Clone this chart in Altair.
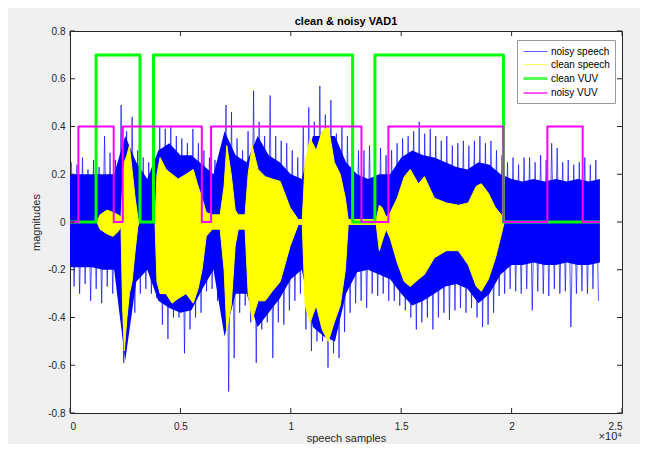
import altair as alt
import pandas as pd

# ---------------- data ----------------
series_names = ["noisy speech", "clean speech", "clean VUV", "noisy VUV"]
series_colors = ["#0000ff", "#ffff00", "#00ff00", "#ff00ff"]
series_widths = [1, 1, 3, 2]

x_ticks = [0, 5000, 10000, 15000, 20000, 25000]
y_ticks = [-0.8, -0.6, -0.4, -0.2, 0, 0.2, 0.4, 0.6, 0.8]

# voiced/unvoiced step signals (sample index where the level starts)
clean_vuv_s = [0, 1180, 3170, 3780, 12800, 13810, 19630, 24000]
clean_vuv_v = [0, 0.7, 0, 0.7, 0, 0.7, 0, 0]
noisy_vuv_s = [0, 380, 1980, 2390, 5970, 6390, 13200, 14420, 19630, 21620, 23220, 24000]
noisy_vuv_v = [0, 0.4, 0, 0.4, 0, 0.4, 0, 0.4, 0, 0.4, 0, 0]

# clean speech envelope (breakpoints)
clean_s = [0, 1220, 1360, 1680, 1950, 2180, 2310, 2380, 2460, 2580, 2690, 2810, 2950, 3070,
           3130, 3850, 3940, 4080, 4350, 4620, 4900, 5260, 5580, 5800, 5980, 6170, 6440,
           6800, 6980, 7100, 7300, 7480, 7620, 7930, 8070, 8250, 8520, 8840, 9160, 9520,
           9970, 10340, 10520, 10650, 10880, 11150, 11420, 11700, 11970, 12240, 12470,
           12600, 13870, 14010, 14140, 14320, 14510, 14820, 15140, 15410, 15780, 16050,
           16500, 17040, 17590, 18040, 18400, 18630, 18950, 19270, 19540, 19670, 24000]
clean_hi = [0, 0, 0.03, 0.05, 0.04, 0.03, 0.02, 0.15, 0.25, 0.28, 0.32, 0.22, 0.1, 0.02,
            0, 0, 0.2, 0.27, 0.22, 0.2, 0.18, 0.2, 0.22, 0.15, 0.1, 0.04, 0.03,
            0.03, 0.15, 0.32, 0.2, 0.05, 0.03, 0.03, 0.2, 0.32, 0.22, 0.19, 0.18, 0.17,
            0.06, 0.01, 0.01, 0.25, 0.35, 0.3, 0.38, 0.4, 0.25, 0.2, 0.1,
            0.01, 0.01, 0.07, 0.06, 0.02, 0.04, 0.1, 0.19, 0.22, 0.16, 0.19,
            0.1, 0.08, 0.07, 0.08, 0.15, 0.16, 0.12, 0.06, 0.03, 0, 0]
clean_lo = [0, 0, -0.03, -0.05, -0.06, -0.04, -0.02, -0.35, -0.54, -0.4, -0.3, -0.25, -0.12, -0.02,
            0, 0, -0.25, -0.3, -0.3, -0.34, -0.32, -0.3, -0.34, -0.28, -0.2, -0.06, -0.03,
            -0.03, -0.2, -0.45, -0.35, -0.1, -0.03, -0.03, -0.3, -0.41, -0.33, -0.33, -0.29, -0.25,
            -0.1, -0.01, -0.01, -0.35, -0.42, -0.35, -0.45, -0.5, -0.42, -0.35, -0.2,
            -0.01, -0.01, -0.12, -0.08, -0.03, -0.07, -0.17, -0.25, -0.27, -0.24, -0.22,
            -0.15, -0.12, -0.12, -0.18, -0.27, -0.29, -0.24, -0.15, -0.05, 0, 0]

# noisy speech: dense core band, every 500 samples
noisy_core_s = list(range(0, 24001, 500))
noisy_core_hi = [0.2, 0.2, 0.2, 0.2, 0.2, 0.36, 0.25, 0.18, 0.3, 0.33, 0.28, 0.28, 0.24,
                 0.2, 0.38, 0.28, 0.25, 0.36, 0.28, 0.25, 0.2, 0.18, 0.36, 0.36, 0.36,
                 0.25, 0.2, 0.18, 0.2, 0.2, 0.27, 0.3, 0.28, 0.27, 0.25, 0.23, 0.22,
                 0.25, 0.24, 0.2, 0.18, 0.17, 0.18, 0.17, 0.18, 0.17, 0.18, 0.17, 0.18]
noisy_core_lo = [-0.19, -0.19, -0.19, -0.2, -0.2, -0.58, -0.25, -0.2, -0.33, -0.36, -0.38,
                 -0.37, -0.28, -0.2, -0.48, -0.3, -0.3, -0.44, -0.38, -0.32, -0.24, -0.2,
                 -0.44, -0.48, -0.5, -0.3, -0.21, -0.2, -0.22, -0.24, -0.3, -0.35, -0.33,
                 -0.3, -0.27, -0.26, -0.28, -0.34, -0.3, -0.22, -0.18, -0.18, -0.17,
                 -0.18, -0.18, -0.17, -0.18, -0.18, -0.17]

# noisy speech: extreme spikes, one per 250 samples
spike_s = list(range(125, 24000, 250))
spike_hi = [0.25, 0.24, 0.27, 0.22, 0.26, 0.23, 0.36, 0.29, 0.26, 0.49, 0.38, 0.44,
            0.3, 0.27, 0.25, 0.28, 0.4, 0.39, 0.4, 0.36, 0.35, 0.33, 0.39, 0.33,
            0.3, 0.27, 0.26, 0.3, 0.49, 0.46, 0.35, 0.3, 0.38, 0.55, 0.42, 0.36,
            0.53, 0.36, 0.34, 0.33, 0.3, 0.27, 0.4, 0.48, 0.42, 0.57, 0.45, 0.51,
            0.37, 0.4, 0.36, 0.35, 0.3, 0.3, 0.32, 0.29, 0.31, 0.28, 0.3, 0.33,
            0.35, 0.36, 0.38, 0.42, 0.37, 0.39, 0.36, 0.34, 0.36, 0.32, 0.33, 0.34,
            0.32, 0.34, 0.36, 0.33, 0.34, 0.3, 0.28, 0.25, 0.27, 0.24, 0.27, 0.27,
            0.25, 0.28, 0.26, 0.33, 0.31, 0.25, 0.26, 0.24, 0.25, 0.27, 0.24, 0.26]
spike_lo = [-0.27, -0.3, -0.26, -0.33, -0.28, -0.34, -0.27, -0.3, -0.31, -0.59, -0.42, -0.38,
            -0.3, -0.28, -0.3, -0.32, -0.43, -0.49, -0.4, -0.4, -0.55, -0.45, -0.4, -0.38,
            -0.29, -0.28, -0.33, -0.3, -0.71, -0.57, -0.38, -0.35, -0.42, -0.59, -0.45, -0.42,
            -0.57, -0.42, -0.43, -0.37, -0.33, -0.3, -0.45, -0.54, -0.5, -0.5, -0.61, -0.55,
            -0.57, -0.46, -0.38, -0.34, -0.33, -0.36, -0.3, -0.31, -0.3, -0.33, -0.33, -0.35,
            -0.37, -0.4, -0.45, -0.42, -0.4, -0.45, -0.4, -0.38, -0.41, -0.37, -0.36, -0.38,
            -0.36, -0.4, -0.44, -0.43, -0.38, -0.31, -0.3, -0.28, -0.29, -0.3, -0.28, -0.37,
            -0.29, -0.3, -0.31, -0.28, -0.3, -0.29, -0.44, -0.3, -0.29, -0.3, -0.28, -0.33]

# ---------------- tables ----------------
core_df = pd.DataFrame({"s": noisy_core_s, "v": noisy_core_lo, "v2": noisy_core_hi})
# waveform-like trace through the spikes: each peak, then each trough
zig_rows = []
for s, hi, lo in zip(spike_s, spike_hi, spike_lo):
    zig_rows.append({"s": s - 60, "v": hi})
    zig_rows.append({"s": s + 60, "v": lo})
zig_df = pd.DataFrame(zig_rows)
zig_df["series"] = "noisy speech"
zig_df["order"] = range(len(zig_df))

clean_df = pd.DataFrame({"s": clean_s, "v": clean_lo, "v2": clean_hi})
clean_edge_df = pd.concat([
    pd.DataFrame({"s": clean_s, "v": clean_hi, "edge": "hi"}),
    pd.DataFrame({"s": clean_s, "v": clean_lo, "edge": "lo"}),
])
clean_edge_df["series"] = "clean speech"
cvuv_df = pd.DataFrame({"s": clean_vuv_s, "v": clean_vuv_v, "series": "clean VUV"})
nvuv_df = pd.DataFrame({"s": noisy_vuv_s, "v": noisy_vuv_v, "series": "noisy VUV"})
xt_df = pd.DataFrame({"s": x_ticks})
yt_df = pd.DataFrame({"v": y_ticks})
title_df = pd.DataFrame({"t": ["clean & noisy VAD1"]})

W, H = 552, 382
AX = "#262626"

xscale = alt.Scale(domain=[0, 25000], nice=False, zero=False)
yscale = alt.Scale(domain=[-0.8, 0.8], nice=False, zero=False)
xaxis = alt.Axis(title="speech samples", values=x_ticks, grid=False, domain=False,
                 ticks=False, labelPadding=8, titlePadding=1,
                 labelExpr="'' + (datum.value / 10000)")
yaxis = alt.Axis(title="magnitudes", values=y_ticks, grid=False, domain=False,
                 ticks=False, labelPadding=5, titlePadding=6,
                 labelExpr="abs(datum.value) < 1e-9 ? '0' : (datum.value < 0 ? '-' : '') + format(abs(datum.value), '.1f')")

X = alt.X("s:Q", scale=xscale, axis=xaxis)
Y = alt.Y("v:Q", scale=yscale, axis=yaxis)

leg = dict(title=None, orient="none", legendX=447, legendY=9,
           symbolType="M-1,0H3", symbolSize=144,
           fillColor="white", strokeColor="#9a9a9a",
           padding=5, labelFontSize=10, labelColor="#000000",
           labelOffset=14, rowPadding=1)
color = alt.Color("series:N", scale=alt.Scale(domain=series_names, range=series_colors),
                  legend=alt.Legend(**leg))
swidth = alt.StrokeWidth("series:N",
                         scale=alt.Scale(type="ordinal", domain=series_names, range=series_widths),
                         legend=alt.Legend(**leg))

zig = alt.Chart(zig_df).mark_line(opacity=0.65).encode(
    x=X, y=Y, order="order:Q", color=color, strokeWidth=swidth)
core = alt.Chart(core_df).mark_area(color="#0000ff", opacity=1).encode(x=X, y=Y, y2="v2:Q")
clean = alt.Chart(clean_df).mark_area(color="#ffff00", opacity=1).encode(x=X, y=Y, y2="v2:Q")
clean_edges = alt.Chart(clean_edge_df).mark_line().encode(
    x=X, y=Y, color=color, strokeWidth=swidth, detail="edge:N")
cvuv = alt.Chart(cvuv_df).mark_line(interpolate="step-after", strokeJoin="round").encode(
    x=X, y=Y, color=color, strokeWidth=swidth)
nvuv = alt.Chart(nvuv_df).mark_line(interpolate="step-after", strokeJoin="round").encode(
    x=X, y=Y, color=color, strokeWidth=swidth)

tick_len = 5
xt_bottom = alt.Chart(xt_df).mark_rule(color=AX, strokeWidth=1).encode(
    x=X, y=alt.value(H), y2=alt.value(H - tick_len))
xt_top = alt.Chart(xt_df).mark_rule(color=AX, strokeWidth=1).encode(
    x=X, y=alt.value(0), y2=alt.value(tick_len))
yt_left = alt.Chart(yt_df).mark_rule(color=AX, strokeWidth=1).encode(
    y=Y, x=alt.value(0), x2=alt.value(tick_len))
yt_right = alt.Chart(yt_df).mark_rule(color=AX, strokeWidth=1).encode(
    y=Y, x=alt.value(W), x2=alt.value(W - tick_len))

exp_df = pd.DataFrame({"t": ["×10⁴"]})
exponent = alt.Chart(exp_df).mark_text(align="right", baseline="middle", fontSize=11,
                                        color=AX, font="Liberation Sans").encode(
    text="t:N", x=alt.value(W), y=alt.value(H + 24))
title_text = alt.Chart(title_df).mark_text(align="center", baseline="middle", fontSize=11,
                                           fontWeight="bold", color="#000000",
                                           font="Liberation Sans").encode(
    text="t:N", x=alt.value(W / 2), y=alt.value(-9))

chart = alt.layer(
    zig, core, clean, clean_edges, cvuv, nvuv,
    xt_bottom, xt_top, yt_left, yt_right, exponent, title_text
).properties(
    width=W, height=H,
    autosize=alt.AutoSizeParams(type="none"),
    padding={"left": 62, "top": 23, "right": 18, "bottom": 31},
    background="#f0f0f0",
).configure(
    font="Liberation Sans",
).configure_view(
    fill="white", stroke=AX, strokeWidth=1,
).configure_axis(
    labelFontSize=10, labelColor=AX, titleFontSize=11, titleColor=AX,
    titleFontWeight="normal", labelFont="Liberation Sans", titleFont="Liberation Sans",
)

chart.save("out.html", embed_options={"renderer": "svg", "actions": False})
